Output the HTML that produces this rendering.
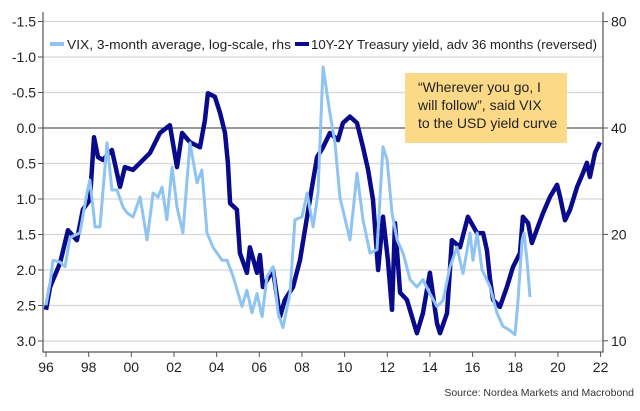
<!DOCTYPE html>
<html><head><meta charset="utf-8"><style>
html,body{margin:0;padding:0;background:#fff;}
svg{display:block;font-family:"Liberation Sans",sans-serif;}
</style></head><body>
<svg id="chart" width="640" height="411" viewBox="0 0 640 411" xmlns="http://www.w3.org/2000/svg">
<g id="grid"></g>
<g id="axes"></g>
<g id="series"></g>
<g>
<rect x="50" y="42" width="14" height="4" fill="#8fc4f2"/>
<text x="67" y="49" font-size="13" fill="#222" textLength="224" lengthAdjust="spacingAndGlyphs">VIX, 3-month average, log-scale, rhs</text>
<rect x="295" y="42" width="14" height="4" fill="#0a0a8c"/>
<text x="311" y="49" font-size="13" fill="#222" textLength="286" lengthAdjust="spacingAndGlyphs">10Y-2Y Treasury yield, adv 36 months (reversed)</text>
</g>
<g>
<rect x="405" y="73" width="162" height="70" fill="#fcd987"/>
<text x="418" y="92" font-size="14" fill="#222">“Wherever you go, I</text>
<text x="418" y="110" font-size="14" fill="#222">will follow”, said VIX</text>
<text x="418" y="128" font-size="14" fill="#222">to the USD yield curve</text>
</g>
<text x="634" y="396" font-size="10.5" fill="#333" text-anchor="end">Source: Nordea Markets and Macrobond</text>
</svg>
<script>
const xTicks = ["96","98","00","02","04","06","08","10","12","14","16","18","20","22"];
const leftTicks = [-1.5,-1.0,-0.5,0.0,0.5,1.0,1.5,2.0,2.5,3.0];
const rightTicks = [80,40,20,10];
const yieldYears = [1996.0,1996.19,1996.66,1997.03,1997.45,1997.73,1998.06,1998.25,1998.44,1998.67,1999.09,1999.47,1999.7,2000.08,2000.41,2000.88,2001.34,2001.81,2002.14,2002.38,2002.75,2003.22,2003.45,2003.59,2003.92,2004.16,2004.39,2004.53,2004.63,2004.95,2005.09,2005.42,2005.56,2005.89,2006.03,2006.17,2006.64,2006.97,2007.2,2007.58,2007.91,2008.24,2008.47,2008.71,2008.99,2009.31,2009.69,2009.92,2010.25,2010.58,2010.86,2011.1,2011.33,2011.57,2011.8,2012.03,2012.22,2012.36,2012.6,2012.92,2013.39,2013.67,2014.0,2014.33,2014.47,2014.8,2015.03,2015.41,2015.78,2016.21,2016.49,2016.67,2016.82,2016.96,2017.28,2017.61,2017.89,2018.22,2018.36,2018.6,2018.78,2019.0,2019.3,2019.63,2019.96,2020.1,2020.33,2020.57,2020.9,2021.18,2021.36,2021.5,2021.74,2021.97];
const yieldValues = [2.56,2.24,1.9,1.44,1.58,1.15,1.01,0.13,0.41,0.45,0.31,0.83,0.55,0.59,0.49,0.35,0.07,-0.04,0.55,0.07,0.2,0.27,-0.11,-0.49,-0.44,-0.21,0.07,0.49,1.06,1.15,1.76,2.04,1.68,2.04,1.79,2.24,2.0,2.66,2.42,2.24,1.86,1.25,0.83,0.41,0.27,0.07,0.17,-0.07,-0.16,-0.07,0.27,0.59,1.01,2.0,1.25,1.86,2.56,1.34,2.32,2.42,2.89,2.61,2.04,2.75,2.89,2.61,1.58,1.68,1.25,1.48,1.48,1.72,2.14,2.42,2.52,2.24,1.96,1.76,1.25,1.34,1.62,1.44,1.2,0.97,0.8,0.97,1.3,1.15,0.83,0.63,0.49,0.69,0.35,0.2];
const vixYears = [1996.0,1996.19,1996.33,1996.66,1996.89,1997.13,1997.59,1997.92,1998.06,1998.3,1998.53,1998.86,1999.09,1999.33,1999.61,1999.8,2000.08,2000.41,2000.74,2001.02,2001.25,2001.44,2001.67,2001.91,2002.14,2002.42,2002.75,2003.08,2003.31,2003.55,2003.83,2004.25,2004.49,2004.77,2005.19,2005.42,2005.66,2005.89,2006.13,2006.36,2006.64,2006.88,2007.11,2007.44,2007.67,2008.0,2008.24,2008.52,2008.75,2008.94,2008.99,2009.17,2009.31,2009.55,2009.78,2010.25,2010.58,2010.86,2011.19,2011.52,2011.8,2011.99,2012.22,2012.46,2012.74,2013.07,2013.39,2013.67,2014.0,2014.33,2014.61,2014.94,2015.27,2015.55,2015.88,2016.02,2016.21,2016.44,2016.82,2017.14,2017.42,2017.75,2017.99,2018.13,2018.32,2018.41,2018.55,2018.69];
const vixValues = [12.6,14.6,16.9,16.7,16.2,19.6,20.2,26.2,28.5,21.0,21.0,36.3,26.7,26.7,23.9,23.0,22.4,25.5,19.3,26.2,25.5,27.2,22.0,31.0,23.9,20.2,36.3,28.0,30.4,20.2,18.4,16.9,16.9,15.2,12.5,13.9,12.0,13.6,11.7,15.2,16.2,12.0,10.9,13.6,22.0,22.4,26.2,21.0,26.2,50.3,59.5,50.3,44.1,36.3,25.5,19.3,29.8,22.0,17.7,18.1,35.4,32.5,23.0,19.3,17.7,14.9,14.2,14.9,13.6,12.5,13.0,16.2,18.4,15.5,20.2,16.9,20.2,15.9,14.2,12.0,11.0,10.7,10.4,13.0,19.3,20.2,16.9,13.3];

const NS="http://www.w3.org/2000/svg";
const X0=43,X1=603,Ytop=12,Ybot=352;
function xScale(yr){return 46+(yr-1996)*21.33;}
function yLeft(v){return 128+v*71;}
function yRight(v){return 128-Math.log2(v/40)*106.4;}
function mk(tag,attrs,parent){const e=document.createElementNS(NS,tag);for(const k in attrs)e.setAttribute(k,attrs[k]);parent.appendChild(e);return e;}
const grid=document.getElementById('grid'),axes=document.getElementById('axes'),series=document.getElementById('series');
leftTicks.forEach(t=>{
  const y=yLeft(t);
  const l=mk('line',{x1:X0,x2:X1,y1:y,y2:y,stroke:t===0?'#333':'#d6d6d6','stroke-width':t===0?1:1.3},grid);
  
  
  const tk=mk('line',{x1:X0-5,x2:X0,y1:y,y2:y,stroke:'#555'},axes);
  
  
  const tx=mk('text',{x:X0-7,y:y+5,'font-size':14,'text-anchor':'end',fill:'#222'},axes);
  tx.textContent=t.toFixed(1);
  
  
});
rightTicks.forEach(t=>{
  const y=yRight(t);
  const tk=mk('line',{x1:X1,x2:X1+5,y1:y,y2:y,stroke:'#555'},axes);
  
  
  const tx=mk('text',{x:X1+8,y:y+5,'font-size':14,fill:'#222'},axes);
  tx.textContent=String(t);
  
  
});
xTicks.forEach((t,i)=>{
  const x=xScale(1996+2*i);
  const tk=mk('line',{x1:x,x2:x,y1:Ybot,y2:Ybot+5,stroke:'#555'},axes);
  
  
  const tx=mk('text',{x:x,y:Ybot+20,'font-size':14,'text-anchor':'middle',fill:'#222'},axes);
  tx.textContent=t;
  
  
});
[['M'+X0+' '+Ytop+'V'+Ybot+'H'+X1+'V'+Ytop,'axis-frame']].forEach(([d,n])=>{
  const p=mk('path',{d:d,fill:'none',stroke:'#555','stroke-width':1.2},axes);
  
  
});
function line(xs,ys,fy,color,w,name){
  const d=xs.map((yr,i)=>(i?'L':'M')+xScale(yr).toFixed(1)+' '+fy(ys[i]).toFixed(1)).join('');
  const p=mk('path',{d:d,fill:'none',stroke:color,'stroke-width':w,'stroke-linejoin':'round'},series);
  
  
}
line(yieldYears,yieldValues,yLeft,'#0a0a8c',4.5,'yield-curve-line');
line(vixYears,vixValues,yRight,'#8fc4f2',3,'vix-line');
</script>
</body></html>
